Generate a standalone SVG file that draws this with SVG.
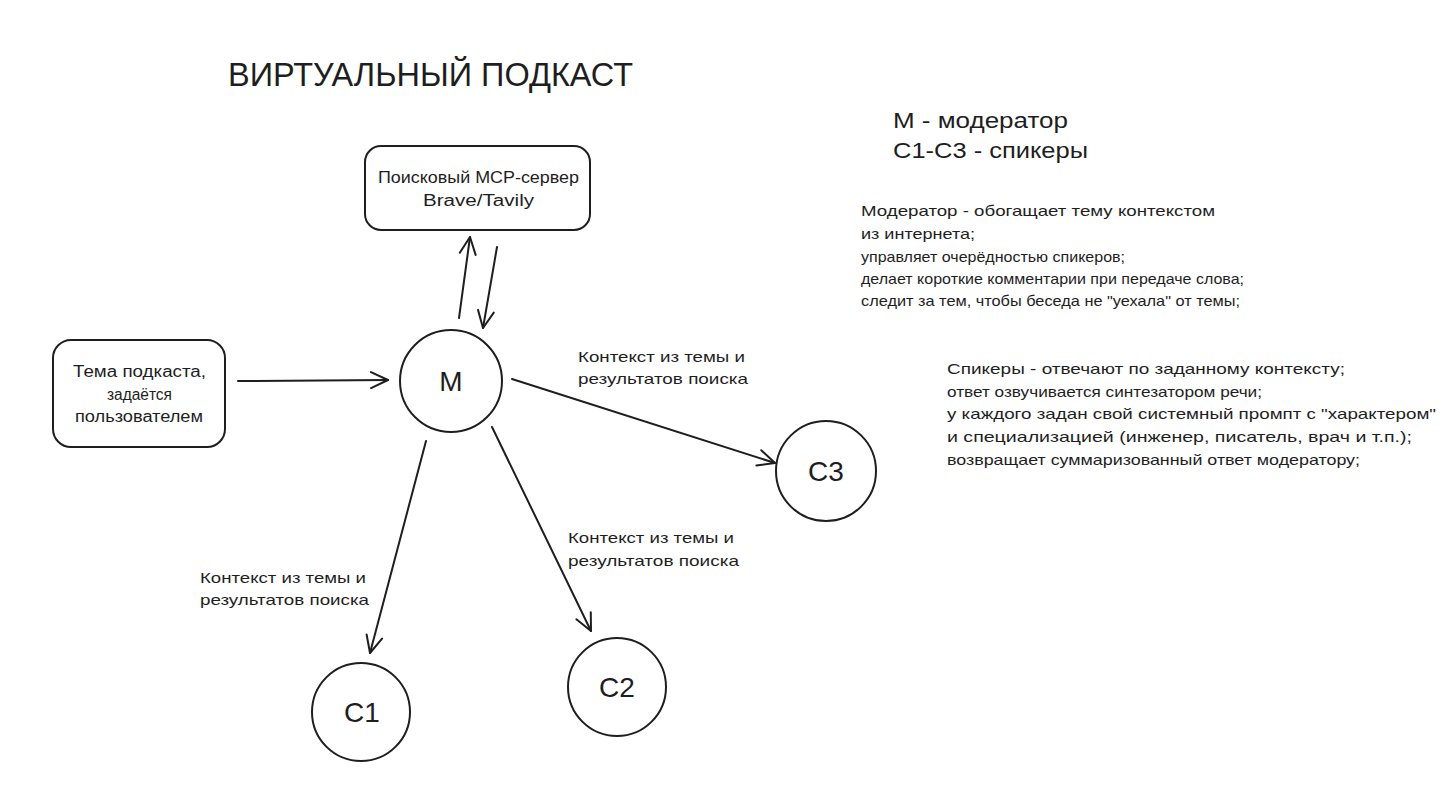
<svg xmlns="http://www.w3.org/2000/svg" width="1456" height="791" viewBox="0 0 1456 791">
<defs>
<marker id="ah" viewBox="0 0 20 20" refX="19" refY="10" markerWidth="20" markerHeight="20" markerUnits="userSpaceOnUse" orient="auto">
<path d="M2,2 L19,10 L2,18" fill="none" stroke="#1e1e1e" stroke-width="2" stroke-linecap="round" stroke-linejoin="round"/>
</marker>
</defs>
<style>
text{font-family:"Liberation Sans","Noto Sans",sans-serif;fill:#1e1e1e}
.box{fill:none;stroke:#1e1e1e;stroke-width:2}
.conn{fill:none;stroke:#1e1e1e;stroke-width:2;stroke-linecap:round}
.t{font-size:16px}
.n{font-size:28px}
.lbl{font-size:15px}
</style>
<rect width="1456" height="791" fill="#ffffff"/>
<text x="228" y="86" font-size="34" textLength="405" lengthAdjust="spacingAndGlyphs">ВИРТУАЛЬНЫЙ ПОДКАСТ</text>
<g id="search">
<rect class="box" x="365" y="146" width="225" height="84" rx="16"/>
<text class="t" x="378" y="183" textLength="201" lengthAdjust="spacingAndGlyphs">Поисковый MCP-сервер</text>
<text class="t" x="423" y="206" textLength="111" lengthAdjust="spacingAndGlyphs">Brave/Tavily</text>
</g>
<g id="topic">
<rect class="box" x="53" y="340" width="172" height="107" rx="18"/>
<text class="t" x="73" y="377" textLength="133" lengthAdjust="spacingAndGlyphs">Тема подкаста,</text>
<text class="t" x="107" y="400" textLength="65" lengthAdjust="spacingAndGlyphs">задаётся</text>
<text class="t" x="75" y="422" textLength="128" lengthAdjust="spacingAndGlyphs">пользователем</text>
</g>
<g id="M">
<circle class="box" cx="451" cy="381" r="51"/>
<text class="n" x="451" y="391" text-anchor="middle" font-size="24">М</text>
</g>
<g id="C3">
<circle class="box" cx="826" cy="471" r="50"/>
<text class="n" x="826" y="481" text-anchor="middle">С3</text>
</g>
<g id="C1">
<circle class="box" cx="361" cy="712" r="49"/>
<text class="n" x="362" y="722" text-anchor="middle">С1</text>
</g>
<g id="C2">
<circle class="box" cx="617" cy="687" r="49"/>
<text class="n" x="617" y="697" text-anchor="middle">С2</text>
</g>
<g id="connectors">
<line class="conn" x1="459" y1="318" x2="470" y2="237" marker-end="url(#ah)"/>
<line class="conn" x1="497" y1="247" x2="483" y2="328" marker-end="url(#ah)"/>
<line class="conn" x1="238" y1="381" x2="388" y2="380" marker-end="url(#ah)"/>
<line class="conn" x1="512" y1="379" x2="775" y2="463" marker-end="url(#ah)"/>
<line class="conn" x1="426" y1="441" x2="370" y2="653" marker-end="url(#ah)"/>
<line class="conn" x1="492" y1="427" x2="591" y2="631" marker-end="url(#ah)"/>
<text class="lbl" x="578" y="362" textLength="167" lengthAdjust="spacingAndGlyphs">Контекст из темы и</text>
<text class="lbl" x="578" y="384" textLength="170" lengthAdjust="spacingAndGlyphs">результатов поиска</text>
<text class="lbl" x="568" y="543" textLength="166" lengthAdjust="spacingAndGlyphs">Контекст из темы и</text>
<text class="lbl" x="568" y="566" textLength="171" lengthAdjust="spacingAndGlyphs">результатов поиска</text>
<text class="lbl" x="200" y="583" textLength="166" lengthAdjust="spacingAndGlyphs">Контекст из темы и</text>
<text class="lbl" x="200" y="605" textLength="169" lengthAdjust="spacingAndGlyphs">результатов поиска</text>
</g>
<g id="legend">
<text x="893" y="128" font-size="22" textLength="175" lengthAdjust="spacingAndGlyphs">М - модератор</text>
<text x="893" y="158" font-size="22" textLength="195" lengthAdjust="spacingAndGlyphs">С1-С3 - спикеры</text>
</g>
<g id="moderator-notes">
<text class="lbl" x="861" y="216" textLength="354" lengthAdjust="spacingAndGlyphs">Модератор - обогащает тему контекстом</text>
<text class="lbl" x="861" y="239" textLength="114" lengthAdjust="spacingAndGlyphs">из интернета;</text>
<text class="lbl" x="861" y="262" textLength="264" lengthAdjust="spacingAndGlyphs">управляет очерёдностью спикеров;</text>
<text class="lbl" x="861" y="284" textLength="383" lengthAdjust="spacingAndGlyphs">делает короткие комментарии при передаче слова;</text>
<text class="lbl" x="861" y="306" textLength="379" lengthAdjust="spacingAndGlyphs">следит за тем, чтобы беседа не "уехала" от темы;</text>
</g>
<g id="speaker-notes">
<text class="lbl" x="947" y="374" textLength="398" lengthAdjust="spacingAndGlyphs">Спикеры - отвечают по заданному контексту;</text>
<text class="lbl" x="947" y="397" textLength="315" lengthAdjust="spacingAndGlyphs">ответ озвучивается синтезатором речи;</text>
<text class="lbl" x="947" y="419" textLength="489" lengthAdjust="spacingAndGlyphs">у каждого задан свой системный промпт с "характером"</text>
<text class="lbl" x="947" y="442" textLength="465" lengthAdjust="spacingAndGlyphs">и специализацией (инженер, писатель, врач и т.п.);</text>
<text class="lbl" x="947" y="465" textLength="413" lengthAdjust="spacingAndGlyphs">возвращает суммаризованный ответ модератору;</text>
</g>
</svg>
